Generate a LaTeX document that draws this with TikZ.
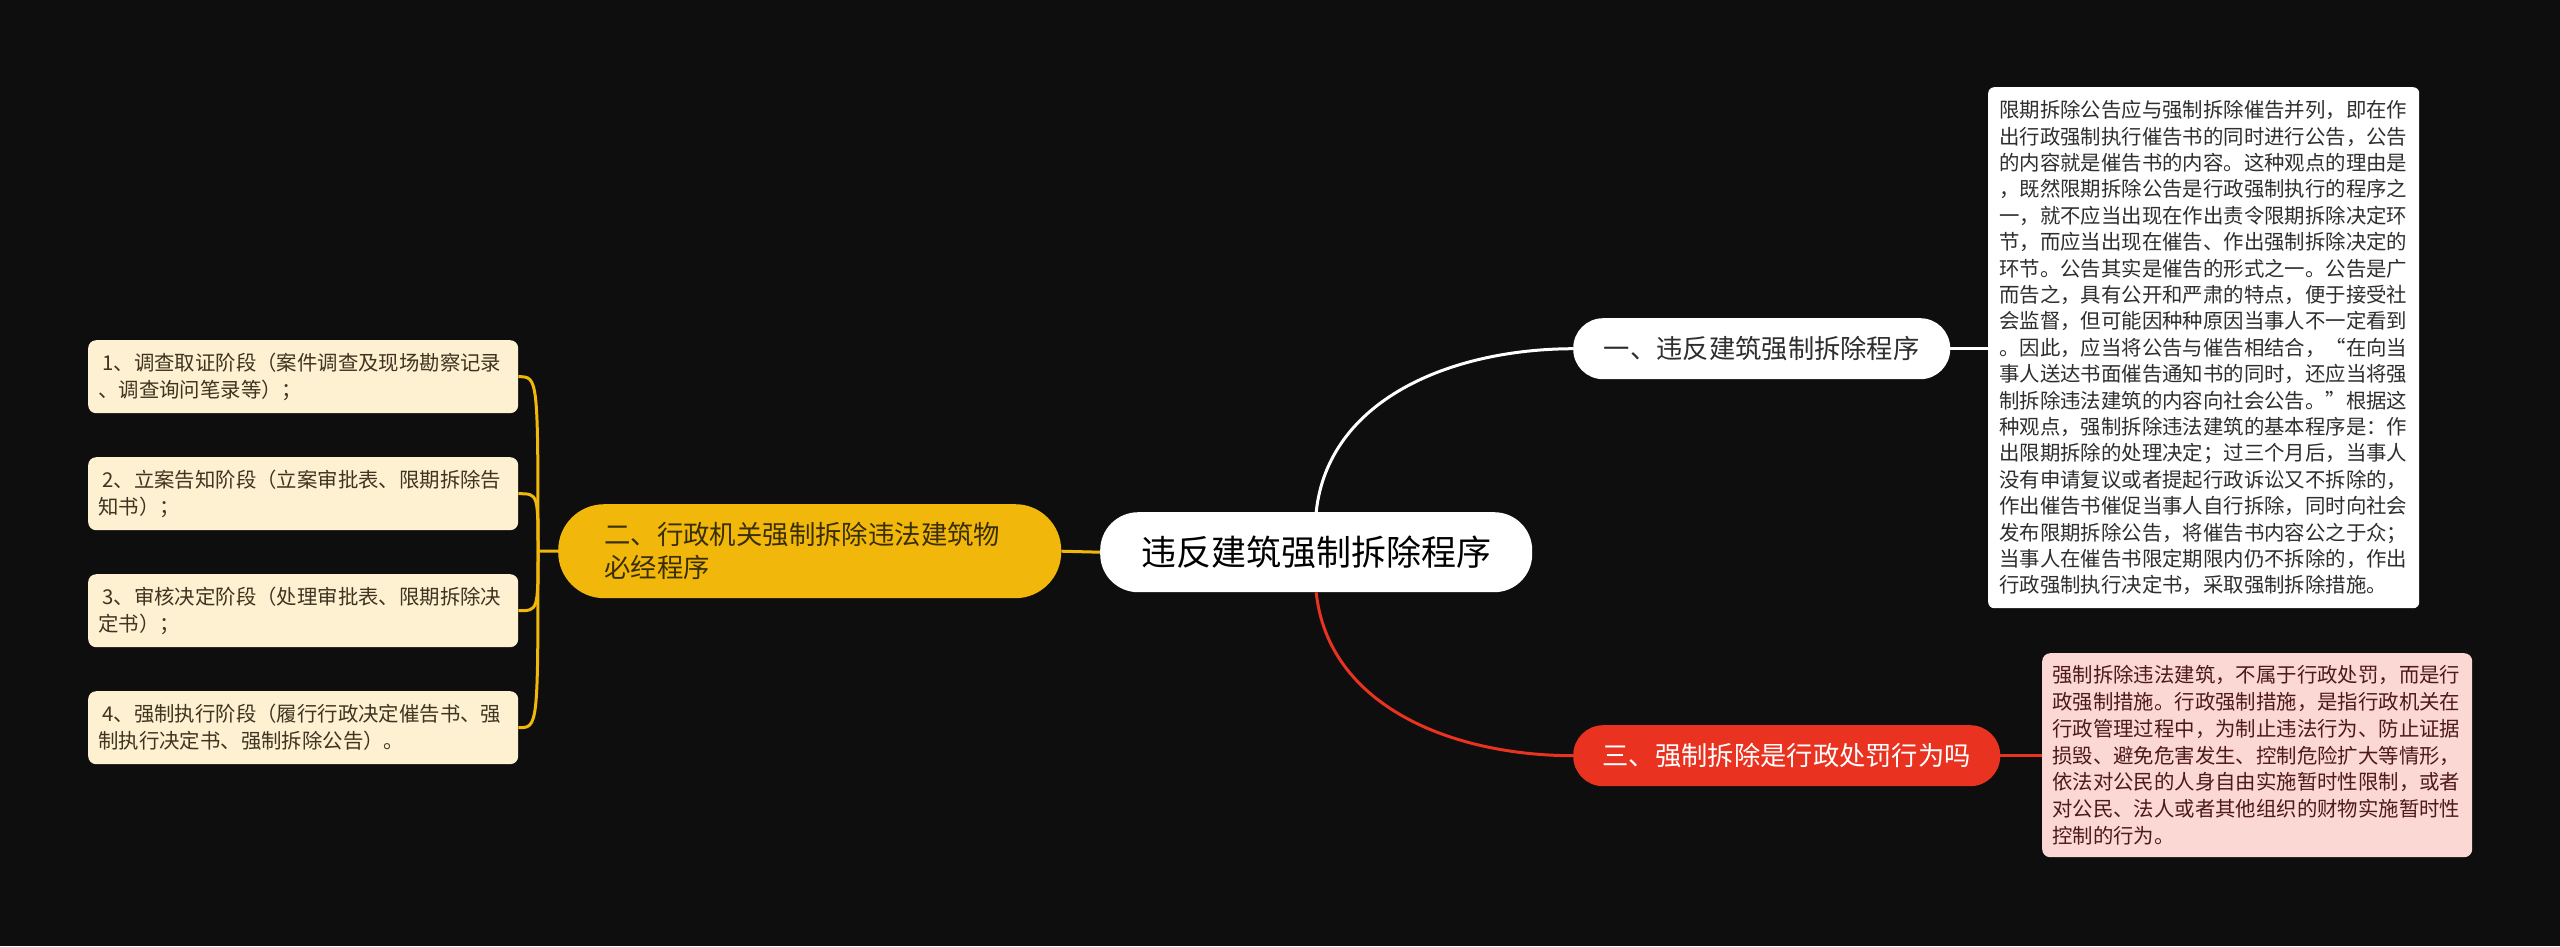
\documentclass[tikz,border=0pt]{standalone}
\usepackage{fontspec}
\setmainfont{Noto Sans CJK SC}
\usetikzlibrary{calc}
\definecolor{bgc}{HTML}{0E0E0E}
\definecolor{yel}{HTML}{F1B80B}
\definecolor{redc}{HTML}{E9321F}
\definecolor{cream}{HTML}{FDF1D2}
\definecolor{pinkc}{HTML}{FCD8D5}
\definecolor{darktxt}{HTML}{2E2E2E}
\definecolor{browntxt}{HTML}{3F3420}
\definecolor{marooncol}{HTML}{4D1A1A}
\definecolor{yeltxt}{HTML}{3A2E05}
\tikzset{
  rootbox/.style={draw=none, fill=white, rounded corners=38pt, minimum width=432pt, minimum height=80pt, inner sep=0pt, text=black, font=\fontsize{35}{40}\selectfont, anchor=north west},
  pillw/.style={draw=none, fill=white, rounded corners=30pt, minimum height=61pt, inner sep=0pt, text=darktxt, font=\fontsize{26.3}{30}\selectfont, anchor=north west},
  pillr/.style={draw=none, fill=redc, rounded corners=30pt, minimum height=61pt, inner sep=0pt, text=white, font=\fontsize{26.3}{30}\selectfont, anchor=north west},
  pilly/.style={draw=none, fill=yel, rounded corners=46pt, minimum height=94pt, minimum width=503pt, inner xsep=46pt, inner ysep=0pt, text width=411pt, align=left, text=yeltxt, font=\fontsize{26.4}{33}\selectfont, anchor=north west},
  leafw/.style={draw=none, fill=white, rounded corners=6pt, minimum height=521pt, inner xsep=11pt, inner ysep=0pt, text width=409pt, align=left, text=darktxt, font=\fontsize{20.4}{26.4}\selectfont, anchor=north west},
  leafp/.style={draw=none, fill=pinkc, rounded corners=8pt, minimum height=204pt, inner xsep=10pt, inner ysep=0pt, text width=410pt, align=left, text=marooncol, font=\fontsize{20.4}{26.7}\selectfont, anchor=north west},
  leafc/.style={draw=none, fill=cream, rounded corners=8pt, minimum height=73pt, inner xsep=10pt, inner ysep=0pt, text width=410pt, align=left, text=browntxt, font=\fontsize{20.4}{27}\selectfont, anchor=north west},
  wline/.style={draw=white, line width=3pt},
  rline/.style={draw=redc, line width=3pt},
  yline/.style={draw=yel, line width=3pt},
}
\begin{document}
\begin{tikzpicture}[x=1pt,y=-1pt]
\fill[bgc] (0,0) rectangle (2560,946);
\useasboundingbox (0,0) rectangle (2560,946);

\node[rootbox] (root) at (1100,512) {违反建筑强制拆除程序};

\node[pillw, minimum width=377pt] (b1) at (1573,318) {一、违反建筑强制拆除程序};
\node[pillr, minimum width=427pt] (b3) at (1573,725) {三、强制拆除是行政处罚行为吗};
\node[pilly] (b2) at (558,504) {二、行政机关强制拆除违法建筑物\\必经程序};

\node[leafw] (l1) at (1988,87) {限期拆除公告应与强制拆除催告并列，即在作\\
出行政强制执行催告书的同时进行公告，公告\\
的内容就是催告书的内容。这种观点的理由是\\
，既然限期拆除公告是行政强制执行的程序之\\
一，就不应当出现在作出责令限期拆除决定环\\
节，而应当出现在催告、作出强制拆除决定的\\
环节。公告其实是催告的形式之一。公告是广\\
而告之，具有公开和严肃的特点，便于接受社\\
会监督，但可能因种种原因当事人不一定看到\\
。因此，应当将公告与催告相结合，“在向当\\
事人送达书面催告通知书的同时，还应当将强\\
制拆除违法建筑的内容向社会公告。”根据这\\
种观点，强制拆除违法建筑的基本程序是：作\\
出限期拆除的处理决定；过三个月后，当事人\\
没有申请复议或者提起行政诉讼又不拆除的，\\
作出催告书催促当事人自行拆除，同时向社会\\
发布限期拆除公告，将催告书内容公之于众；\\
当事人在催告书限定期限内仍不拆除的，作出\\
行政强制执行决定书，采取强制拆除措施。};

\node[leafp] (l3) at (2042,653) {强制拆除违法建筑，不属于行政处罚，而是行\\
政强制措施。行政强制措施，是指行政机关在\\
行政管理过程中，为制止违法行为、防止证据\\
损毁、避免危害发生、控制危险扩大等情形，\\
依法对公民的人身自由实施暂时性限制，或者\\
对公民、法人或者其他组织的财物实施暂时性\\
控制的行为。};

\node[leafc] (c1) at (88,340) {\hspace*{0.2em}1、调查取证阶段（案件调查及现场勘察记录\\
、调查询问笔录等）；};
\node[leafc] (c2) at (88,457) {\hspace*{0.2em}2、立案告知阶段（立案审批表、限期拆除告\\
知书）；};
\node[leafc] (c3) at (88,574) {\hspace*{0.2em}3、审核决定阶段（处理审批表、限期拆除决\\
定书）；};
\node[leafc] (c4) at (88,691) {\hspace*{0.2em}4、强制执行阶段（履行行政决定催告书、强\\
制执行决定书、强制拆除公告）。};

% connectors
\draw[wline] (root.north) .. controls (1328,400) and (1450,349) .. (b1.west);
\draw[rline] (root.south) .. controls (1328,705) and (1450,755.5) .. (b3.west);
\draw[yline] (b2.east) -- (root.west);
\draw[wline] (b1.east) -- (l1.west |- b1.east);
\draw[rline] (b3.east) -- (l3.west |- b3.east);

\coordinate (j2) at (538,551);
\draw[yline] (b2.west) -- (j2);
\foreach \c in {c1,c2,c3,c4}{
  \draw[yline] (j2) .. controls (j2 |- \c.east) .. (\c.east);
}
\end{tikzpicture}
\end{document}
